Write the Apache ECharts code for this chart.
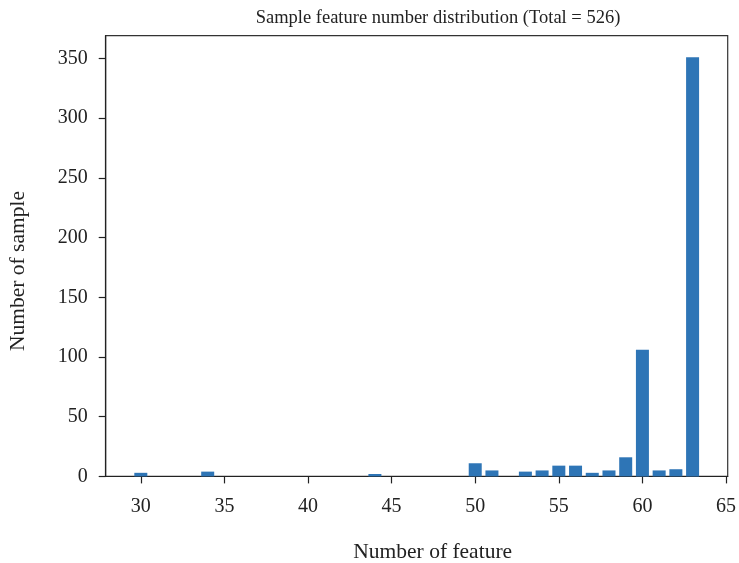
<!DOCTYPE html>
<html>
<head>
<meta charset="utf-8">
<script src="https://cdn.jsdelivr.net/npm/echarts@6/dist/echarts.min.js"></script>
<style>
html,body{margin:0;padding:0;background:#fff;}
#chart{width:739px;height:563px;}
</style>
</head>
<body>
<div id="chart"></div>
<script>
// Data
const featureNumbers = [30, 34, 44, 50, 51, 53, 54, 55, 56, 57, 58, 59, 60, 61, 62, 63];
const sampleCounts   = [3, 4, 2, 11, 5, 4, 5, 9, 9, 3, 5, 16, 106, 5, 6, 351];
const xTicks = [30, 35, 40, 45, 50, 55, 60, 65];
const yTicks = [0, 50, 100, 150, 200, 250, 300, 350];
const titleText = 'Sample feature number distribution (Total = 526)';

const font = '"Liberation Serif", "DejaVu Serif", serif';
const chart = echarts.init(document.getElementById('chart'), null, {renderer: 'canvas'});
chart.setOption({
  animation: false,
  backgroundColor: '#fff',
  title: {
    text: titleText,
    left: 433, top: 4, textAlign: 'center',
    textStyle: {fontFamily: font, fontSize: 18.5, fontWeight: 'normal', color: '#222'}
  },
  grid: {left: 105.7, right: 11.3, top: 35.7, bottom: 86.6, outerBoundsMode: 'none', containLabel: false, show: true, borderColor: '#333', borderWidth: 1.2, backgroundColor: 'transparent'},
  xAxis: {
    type: 'value', min: 27.9, max: 65.1,
    name: 'Number of feature', nameLocation: 'middle', nameGap: 65,
    nameTextStyle: {fontFamily: font, fontSize: 21.5, color: '#222', padding: [0, 0, 0, 32]},
    axisLine: {show: true, onZero: false, lineStyle: {color: '#222', width: 1.2}},
    axisTick: {show: true, length: 7, customValues: xTicks, lineStyle: {color: '#222', width: 1.2}},
    axisLabel: {customValues: xTicks, margin: 20, fontFamily: font, fontSize: 20, color: '#222'},
    splitLine: {show: false}
  },
  yAxis: {
    type: 'value', min: 0, max: 369,
    name: 'Number of sample', nameLocation: 'middle', nameGap: 76, nameRotate: 90,
    nameTextStyle: {fontFamily: font, fontSize: 21.5, color: '#222', padding: [0, 30, 0, 0]},
    axisLine: {show: true, lineStyle: {color: '#222', width: 1.2}},
    axisTick: {show: true, length: 7, customValues: yTicks, lineStyle: {color: '#222', width: 1.2}},
    axisLabel: {customValues: yTicks, margin: 18, fontFamily: font, fontSize: 20, color: '#222'},
    splitLine: {show: false}
  },
  series: [{
    type: 'bar',
    data: featureNumbers.map((x, i) => [x, sampleCounts[i]]),
    barWidth: 13,
    itemStyle: {color: '#2e75b6'}
  }]
});
</script>
</body>
</html>
